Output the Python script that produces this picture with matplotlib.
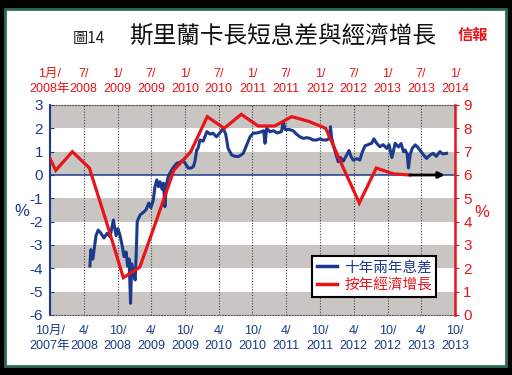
import matplotlib
matplotlib.use("Agg")
import matplotlib.pyplot as plt
import matplotlib.dates as mdates
from matplotlib.patches import Rectangle
import pandas as pd

# ---------------- data ----------------
blue_dates = [
    "2008-05-04", "2008-05-09", "2008-05-20", "2008-06-06", "2008-06-18", "2008-07-03", "2008-07-19",
    "2008-08-05", "2008-08-21", "2008-09-08", "2008-09-23", "2008-10-03", "2008-10-14", "2008-10-25",
    "2008-11-05", "2008-11-16", "2008-11-24", "2008-12-02", "2008-12-10", "2008-12-16", "2008-12-25",
    "2009-01-04", "2009-01-10", "2009-01-15", "2009-01-20", "2009-02-01", "2009-02-17", "2009-03-03",
    "2009-03-19", "2009-03-30", "2009-04-12", "2009-04-21", "2009-05-01", "2009-05-10", "2009-05-18",
    "2009-05-29", "2009-06-06", "2009-06-14", "2009-06-22", "2009-07-02", "2009-07-11", "2009-07-27",
    "2009-08-17", "2009-09-04", "2009-09-20", "2009-10-06", "2009-10-19", "2009-11-03", "2009-11-15",
    "2009-11-24", "2009-12-03", "2009-12-10", "2009-12-21", "2010-01-07", "2010-01-27", "2010-02-14",
    "2010-03-01", "2010-03-20", "2010-04-07", "2010-04-25", "2010-05-09", "2010-05-22", "2010-06-10",
    "2010-06-28", "2010-07-15", "2010-07-30", "2010-08-12", "2010-08-31", "2010-09-18", "2010-10-05",
    "2010-10-25", "2010-11-20", "2010-11-30", "2010-12-08", "2010-12-17", "2011-01-04", "2011-01-22",
    "2011-02-12", "2011-03-07", "2011-03-16", "2011-03-27", "2011-04-16", "2011-05-09", "2011-05-27",
    "2011-06-14", "2011-07-02", "2011-07-22", "2011-08-08", "2011-08-24", "2011-09-13", "2011-10-01",
    "2011-10-17", "2011-11-06", "2011-11-19", "2011-11-27", "2011-12-03", "2011-12-12", "2011-12-26",
    "2012-01-08", "2012-01-20", "2012-02-05", "2012-02-19", "2012-03-06", "2012-03-17", "2012-03-29",
    "2012-04-18", "2012-05-04", "2012-05-18", "2012-06-01", "2012-06-17", "2012-07-07", "2012-07-19",
    "2012-08-03", "2012-08-21", "2012-09-07", "2012-09-27", "2012-10-09", "2012-10-24", "2012-11-01",
    "2012-11-11", "2012-11-29", "2012-12-13", "2012-12-26", "2013-01-04", "2013-01-15", "2013-01-22",
    "2013-02-01", "2013-02-12", "2013-02-28", "2013-03-12", "2013-03-25", "2013-04-10", "2013-04-30",
    "2013-05-18", "2013-06-05", "2013-06-22", "2013-07-11", "2013-07-27", "2013-08-16",
]
blue_values = [
    -3.9, -3.2, -3.6, -2.6, -2.36, -2.5, -2.7, -2.5, -2.65, -1.93, -2.6, -2.3, -2.6, -3.0,
    -3.5, -3.3, -3.9, -3.6, -5.5, -3.8, -4.2, -4.5, -3.3, -2.0, -1.9, -1.7, -1.6, -1.5,
    -1.2, -1.4, -1.07, -0.5, -0.21, -0.5, -0.29, -0.6, -0.35, -1.36, -0.4, -0.07, 0.08, 0.3,
    0.5, 0.55, 0.64, 0.45, 0.29, 0.3, 0.36, 0.6, 1.07, 1.14, 1.5, 1.45, 1.86, 1.75,
    1.79, 1.64, 1.8, 2.0, 1.75, 1.14, 0.86, 0.8, 0.79, 0.85, 0.93, 1.29, 1.64, 1.79,
    1.8, 1.86, 1.9, 1.36, 2.0, 1.85, 1.9, 1.8, 1.86, 2.3, 1.95, 1.95, 1.9, 1.75,
    1.64, 1.57, 1.6, 1.57, 1.5, 1.5, 1.55, 1.5, 1.5, 1.55, 2.07, 1.6, 1.29, 0.9,
    0.57, 0.75, 0.6, 0.8, 1.05, 0.8, 0.64, 0.7, 0.64, 1.0, 1.25, 1.3, 1.36, 1.55,
    1.36, 1.21, 1.3, 1.14, 1.3, 0.75, 1.0, 1.36, 1.2, 1.35, 1.0, 1.07, 0.9, 0.3,
    0.9, 1.15, 1.29, 1.2, 1.07, 0.9, 0.71, 0.85, 0.93, 0.8, 1.0, 0.9, 0.93,
]

gdp_quarters = ["2007Q4", "2008Q1", "2008Q2", "2008Q3", "2008Q4", "2009Q1", "2009Q2", "2009Q3",
                "2009Q4", "2010Q1", "2010Q2", "2010Q3", "2010Q4", "2011Q1", "2011Q2", "2011Q3",
                "2011Q4", "2012Q1", "2012Q2", "2012Q3", "2012Q4", "2013Q1", "2013Q2"]
gdp_values = [7.7, 6.2, 7.0, 6.3, 4.0, 1.6, 2.05, 4.1, 6.2, 7.0, 8.5, 8.0, 8.6, 8.1, 8.1, 8.5,
              8.3, 8.0, 6.4, 4.8, 6.3, 6.05, 6.0]

bottom_tick_dates = pd.date_range("2007-10-01", "2013-10-01", freq="6MS")
bottom_tick_labels = ["10月/\n2007年", "4/\n2008", "10/\n2008", "4/\n2009", "10/\n2009", "4/\n2010",
                      "10/\n2010", "4/\n2011", "10/\n2011", "4/\n2012", "10/\n2012", "4/\n2013", "10/\n2013"]
top_tick_dates = pd.date_range("2008-01-01", "2014-01-01", freq="6MS")
top_tick_labels = ["1月/\n2008年", "7/\n2008", "1/\n2009", "7/\n2009", "1/\n2010", "7/\n2010",
                   "1/\n2011", "7/\n2011", "1/\n2012", "7/\n2012", "1/\n2013", "7/\n2013", "1/\n2014"]

left_ticks = list(range(-6, 4))
right_ticks = list(range(0, 10))

title_text = "斯里蘭卡長短息差與經濟增長"
fig_no = "圖14"
source_text = "信報"
legend_labels = ["十年兩年息差", "按年經濟增長"]

# ---------------- style ----------------
BLUE = "#1c3a8c"
RED = "#e8141a"
GREY_BAND = "#c9c5c3"
LATIN = ["Liberation Sans Narrow", "Liberation Sans", "Noto Sans CJK TC"]
CJK = ["Noto Sans CJK TC", "DejaVu Sans"]
plt.rcParams["font.family"] = LATIN
TICK_FS = 9

fig = plt.figure(figsize=(5.12, 3.75), dpi=100, facecolor="black")
bg = Rectangle((5 / 512, 1 - 366 / 375), 501 / 512, 357 / 375,
               transform=fig.transFigure, facecolor="white",
               edgecolor="#2f6e4f", linewidth=2, zorder=-10)
fig.patches.append(bg)

pos = [50 / 512, 1 - 315 / 375, 405 / 512, 210 / 375]
ax = fig.add_axes(pos)
ax.set_facecolor("white")

# bands
for lo in left_ticks[:-1]:
    if (lo - left_ticks[0]) % 2 == 0:
        ax.axhspan(lo, lo + 1, color=GREY_BAND, zorder=0, lw=0)

bx = mdates.date2num(pd.to_datetime(blue_dates))
blue_line, = ax.plot(bx, blue_values, color=BLUE, lw=2.2, zorder=3, solid_joinstyle="round")
ax.axhline(0, color=BLUE, lw=1.1, zorder=2)

ax.set_xlim(mdates.date2num(bottom_tick_dates[0]), mdates.date2num(bottom_tick_dates[-1]))
ax.set_ylim(left_ticks[0], left_ticks[-1])
ax.set_xticks(mdates.date2num(bottom_tick_dates))
ax.set_xticklabels(bottom_tick_labels, color=BLUE, fontsize=TICK_FS, linespacing=1.3)
ax.set_yticks(left_ticks)
ax.set_yticklabels([str(t) for t in left_ticks], color=BLUE, fontsize=11)
ax.tick_params(axis="x", length=0, pad=7.5)
ax.tick_params(axis="y", direction="in", length=3, color=BLUE, pad=5)
ax.grid(axis="x", color="#444444", linestyle=(0, (1, 1.5)), lw=0.8, zorder=1)
for s in ["top", "bottom"]:
    ax.spines[s].set_color("#555555")
    ax.spines[s].set_linestyle((0, (1, 1.5)))
    ax.spines[s].set_linewidth(0.8)
ax.spines["left"].set_color(BLUE)
ax.spines["left"].set_linewidth(1.5)
ax.spines["right"].set_visible(False)

# overlay axes for GDP (top/right)
ax2 = fig.add_axes(pos)
ax2.patch.set_visible(False)
qx = [pd.Period(q, freq="Q").start_time + pd.DateOffset(months=1) for q in gdp_quarters]
qx = mdates.date2num(pd.to_datetime(qx))
red_line, = ax2.plot(qx, gdp_values, color=RED, lw=2.3, zorder=4, solid_joinstyle="miter")
ax2.set_xlim(mdates.date2num(top_tick_dates[0]), mdates.date2num(top_tick_dates[-1]))
ax2.set_ylim(right_ticks[0], right_ticks[-1])
ax2.xaxis.tick_top()
ax2.yaxis.tick_right()
ax2.set_xticks(mdates.date2num(top_tick_dates))
ax2.set_xticklabels(top_tick_labels, color=RED, fontsize=TICK_FS, linespacing=1.3)
ax2.set_yticks(right_ticks)
ax2.set_yticklabels([str(t) for t in right_ticks], color=RED, fontsize=11)
ax2.tick_params(axis="x", length=0, pad=7.5)
ax2.tick_params(axis="y", direction="out", length=3, color=RED, pad=3)
for s in ["top", "bottom", "left"]:
    ax2.spines[s].set_visible(False)
ax2.spines["right"].set_color(RED)
ax2.spines["right"].set_linewidth(1.8)

# arrow continuing the last GDP reading
ax2.annotate("", xy=(mdates.date2num(pd.Timestamp("2013-11-07")), gdp_values[-1]),
             xytext=(qx[-1], gdp_values[-1]),
             arrowprops=dict(arrowstyle="-|>", color="black", lw=2, mutation_scale=9,
                             shrinkA=0, shrinkB=0), zorder=5)

leg = ax2.legend([blue_line, red_line], legend_labels, loc="lower right",
                 bbox_to_anchor=(0.972, 0.052), prop={"family": CJK, "size": 10.5},
                 frameon=True, fancybox=False, edgecolor="black", framealpha=1,
                 handlelength=1.4, handletextpad=0.5, borderpad=0.3, labelspacing=0.25)
leg.get_frame().set_linewidth(1.5)
for t, c in zip(leg.get_texts(), [BLUE, RED]):
    t.set_color(c)
for h in leg.legend_handles:
    h.set_linewidth(2.5)

# % labels
fig.text(22 / 512, 1 - 211 / 375, "%", color=BLUE, fontsize=12, ha="center", va="center")
fig.text(482 / 512, 1 - 213 / 375, "%", color=RED, fontsize=12, ha="center", va="center")

# titles
fig.text(73 / 512, 1 - 39 / 375, fig_no, family=CJK, fontsize=11, color="#222222",
         ha="left", va="center")
fig.text(283 / 512, 1 - 37 / 375, title_text, family=CJK, fontsize=17, color="#111111",
         ha="center", va="center")
fig.text(473 / 512, 1 - 35 / 375, source_text, family=CJK, fontsize=11, color=RED,
         fontweight="bold", ha="center", va="center")

fig.savefig("out.png", dpi=100, facecolor=fig.get_facecolor())
